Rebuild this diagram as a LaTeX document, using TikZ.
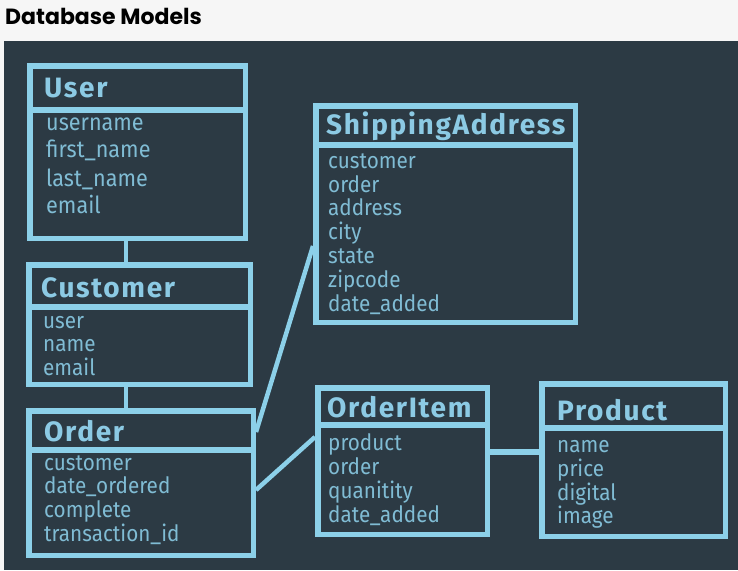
\documentclass[tikz,border=0pt]{standalone}
\usepackage{fontspec}
\setmainfont{Fira Sans}
\newfontfamily\pagetitlefont{Poppins}
\newfontfamily\tbltitlefont{Fira Sans}[LetterSpace=6]
\newfontfamily\fieldfont{Fira Sans}[FakeStretch=0.92]
\definecolor{bg}{RGB}{44,58,68}
\definecolor{page}{RGB}{246,246,246}
\definecolor{lb}{RGB}{140,208,233}
\definecolor{ttxt}{RGB}{140,202,228}
\definecolor{ftxt}{RGB}{128,188,212}
\tikzset{
  tbl/.style={draw=lb, line width=5.5pt, fill=bg, rectangle, inner sep=0pt},
  sepline/.style={draw=lb, line width=5.5pt},
  conn/.style={draw=lb, line width=4.5pt},
  thick conn/.style={draw=lb, line width=5.5pt},
  ttl/.style={anchor=base west, inner sep=0pt, text=ttxt, font=\tbltitlefont\bfseries\fontsize{28}{30}\selectfont},
  fld/.style={anchor=base west, inner sep=0pt, text=ftxt, font=\fieldfont\fontsize{22.5}{24}\selectfont},
  bigfld/.style={fld, font=\fieldfont\fontsize{23.5}{26}\selectfont},
}
\begin{document}
\begin{tikzpicture}[x=1pt,y=-1pt]
\useasboundingbox (0,0) rectangle (738,570);
\fill[page] (0,0) rectangle (738,570);
\fill[bg] (4,41) rectangle (738,570);
\node[anchor=base west, inner sep=0pt, font=\pagetitlefont\bfseries\fontsize{22}{24}\selectfont] (title) at (5,24) {Database Models};

% tables
\node[tbl, minimum width=215.5pt, minimum height=172.5pt] (user) at (137.5,152) {};
\node[tbl, minimum width=221.5pt, minimum height=119.5pt] (customer) at (139.5,324.5) {};
\node[tbl, minimum width=224.5pt, minimum height=144.5pt] (order) at (141,483) {};
\node[tbl, minimum width=259.5pt, minimum height=216.5pt] (ship) at (445.5,214) {};
\node[tbl, minimum width=169.5pt, minimum height=146.5pt] (item) at (402.5,461) {};
\node[tbl, minimum width=183.5pt, minimum height=152.5pt] (product) at (633.5,460) {};

% separators
\draw[sepline] (user.west |- 0,110) -- (user.east |- 0,110);
\draw[sepline] (customer.west |- 0,307) -- (customer.east |- 0,307);
\draw[sepline] (order.west |- 0,450) -- (order.east |- 0,450);
\draw[sepline] (ship.west |- 0,145) -- (ship.east |- 0,145);
\draw[sepline] (item.west |- 0,425) -- (item.east |- 0,425);
\draw[sepline] (product.west |- 0,428) -- (product.east |- 0,428);

% connectors
\coordinate (cx) at (126,0);
\draw[conn] (user.south -| cx) -- (customer.north -| cx);
\draw[conn] (customer.south -| cx) -- (order.north -| cx);
\draw[conn] (order.east |- 0,432) -- (ship.west |- 0,246);
\draw[conn] (order.east |- 0,490) -- (item.west |- 0,437);
\draw[thick conn] (item.east |- 0,452) -- (product.west |- 0,452);

% titles
\node[ttl] (userT) at (44,97) {User};
\node[ttl] (customerT) at (41,297) {Customer};
\node[ttl] (orderT) at (44,441) {Order};
\node[ttl] (shipT) at (326,134) {ShippingAddress};
\node[ttl] (itemT) at (327,417) {OrderItem};
\node[ttl] (productT) at (557,420) {Product};

% fields
\node[bigfld] (u1) at (46,130) {username};
\node[bigfld] (u2) at (46,157) {first\_name};
\node[bigfld] (u3) at (46,186) {last\_name};
\node[bigfld] (u4) at (46,213) {email};

\node[fld] (c1) at (43,328) {user};
\node[fld] (c2) at (43,351) {name};
\node[fld] (c3) at (43,375) {email};

\node[fld] (o1) at (44,470) {customer};
\node[fld] (o2) at (44,493) {date\_ordered};
\node[fld] (o3) at (44,517) {complete};
\node[fld] (o4) at (44,541) {transaction\_id};

\node[fld] (s1) at (328,168) {customer};
\node[fld] (s2) at (328,192) {order};
\node[fld] (s3) at (328,215) {address};
\node[fld] (s4) at (328,239) {city};
\node[fld] (s5) at (328,263) {state};
\node[fld] (s6) at (328,287) {zipcode};
\node[fld] (s7) at (328,311) {date\_added};

\node[fld] (i1) at (328,450) {product};
\node[fld] (i2) at (328,474) {order};
\node[fld] (i3) at (328,498) {quanitity};
\node[fld] (i4) at (328,522) {date\_added};

\node[fld] (p1) at (557,452) {name};
\node[fld] (p2) at (557,476) {price};
\node[fld] (p3) at (557,500) {digital};
\node[fld] (p4) at (557,523) {image};
\end{tikzpicture}
\end{document}
